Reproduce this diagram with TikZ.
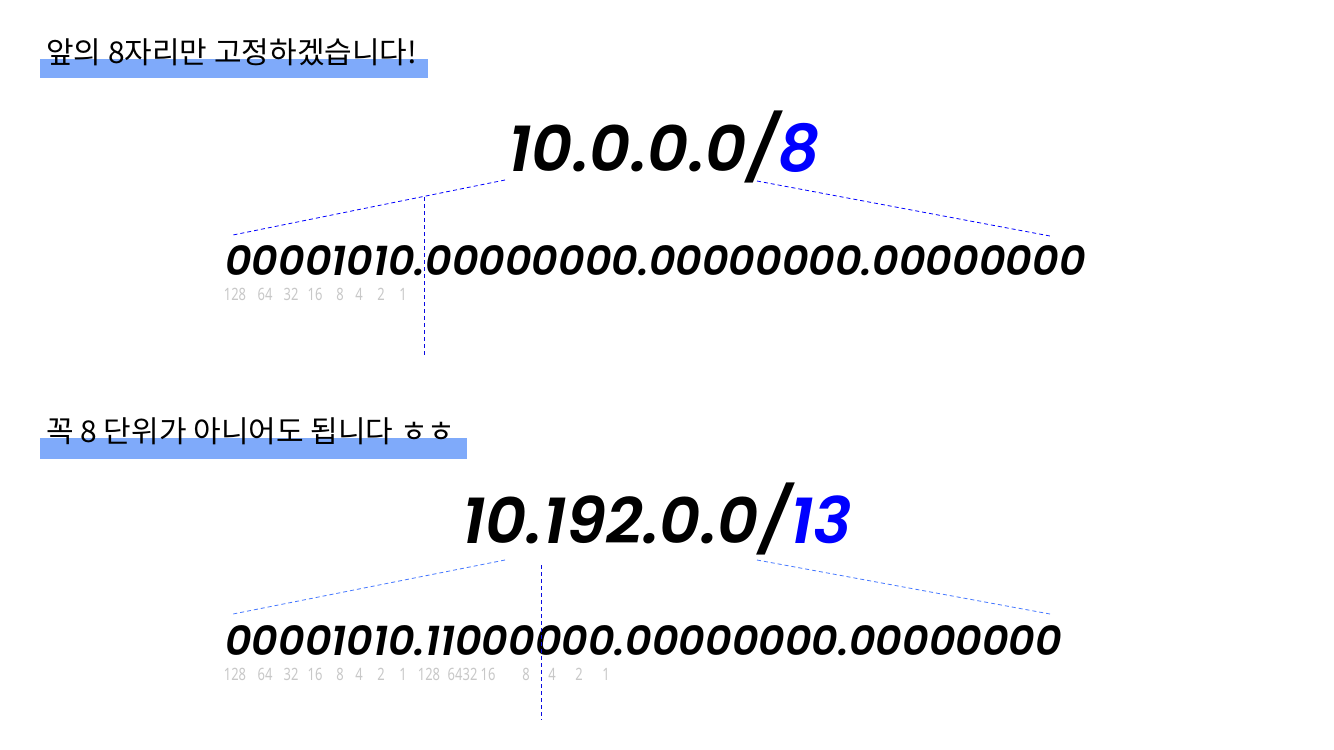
\documentclass[tikz,border=0pt]{standalone}
\usepackage{fontspec}
\setmainfont{Noto Sans}
\newfontfamily\krfont{Noto Sans CJK KR}
\newfontfamily\ipfont{Poppins}[BoldItalicFont={Poppins SemiBold Italic}]
\newfontfamily\wtfont{Noto Sans}[FakeStretch=0.76]
\usetikzlibrary{positioning}
\definecolor{barblue}{RGB}{127,170,250}
\definecolor{maskblue}{RGB}{0,0,255}
\definecolor{lineblue}{RGB}{70,120,255}
\definecolor{cutblue}{RGB}{10,10,225}
\definecolor{weightgray}{RGB}{200,200,200}
\tikzset{
  header/.style={anchor=base west,inner sep=0pt,font=\krfont\fontsize{30}{30}\selectfont},
  address/.style={anchor=base,inner sep=0pt,font=\ipfont\bfseries\itshape\fontsize{64}{64}\selectfont},
  binary/.style={anchor=base west,inner sep=0pt,font=\ipfont\bfseries\itshape\fontsize{41.2}{41.2}\selectfont},
  weight/.style={anchor=base,inner sep=0pt,text=weightgray,font=\wtfont\fontsize{17}{17}\selectfont},
  spread/.style={dash pattern=on 4pt off 3pt,line width=0.8pt},
  cut/.style={cutblue,dash pattern=on 4pt off 3pt,line width=0.9pt}
}
\begin{document}
\begin{tikzpicture}[x=1pt,y=-1pt]
 \useasboundingbox[fill=white] (0,0) rectangle (1334,750);

 %Bars
 \fill[barblue] (40,59) rectangle (428,78);
 \fill[barblue] (40,438) rectangle (467,459);

 %Headers
 \node (head1) [header] at (46,63) {앞의 8자리만 고정하겠습니다!};
 \node (head2) [header] at (46,442) {꼭 8 단위가 아니어도 됩니다 ㅎㅎ};

 %Addresses
 \node (addr1) [address] at (664,171) {10.0.0.0/\textcolor{maskblue}{8}};
 \node (addr2) [address] at (657,543) {10.192.0.0/\textcolor{maskblue}{13}};

 %Binary
 \node (bin1) [binary] at (225,275) {00001010.00000000.00000000.00000000};
 \node (bin2) [binary] at (225,655) {00001010.11000000.00000000.00000000};

 %Coordinates
 \coordinate (l1a) at (505,180);  \coordinate (l1b) at (233,235);
 \coordinate (r1a) at (757,181);  \coordinate (r1b) at (1050,236);
 \coordinate (l2a) at (505,560);  \coordinate (l2b) at (233,614);
 \coordinate (r2a) at (757,560);  \coordinate (r2b) at (1050,614);
 \coordinate (cut1a) at (424,197); \coordinate (cut1b) at (424,355);
 \coordinate (cut2a) at (541,565); \coordinate (cut2b) at (541,720);

 %Spread lines
 \draw[spread,blue] (l1a) -- (l1b);
 \draw[spread,blue] (r1a) -- (r1b);
 \draw[spread,lineblue] (l2a) -- (l2b);
 \draw[spread,lineblue] (r2a) -- (r2b);

 %Cuts
 \draw[cut] (cut1a) -- (cut1b);
 \draw[cut] (cut2a) -- (cut2b);

 %Weights
 \foreach \x/\w in {235/128,265/64,291/32,315/16,340/8,359/4,381/2,403/1}
  \node[weight] at (\x,300) {\w};

 \foreach \x/\w in {235/128,265/64,291/32,315/16,340/8,359/4,381/2,403/1,429/128,455/64,470/32,488/16,526/8,552/4,579/2,606/1}
  \node[weight] at (\x,680) {\w};

\end{tikzpicture}
\end{document}
